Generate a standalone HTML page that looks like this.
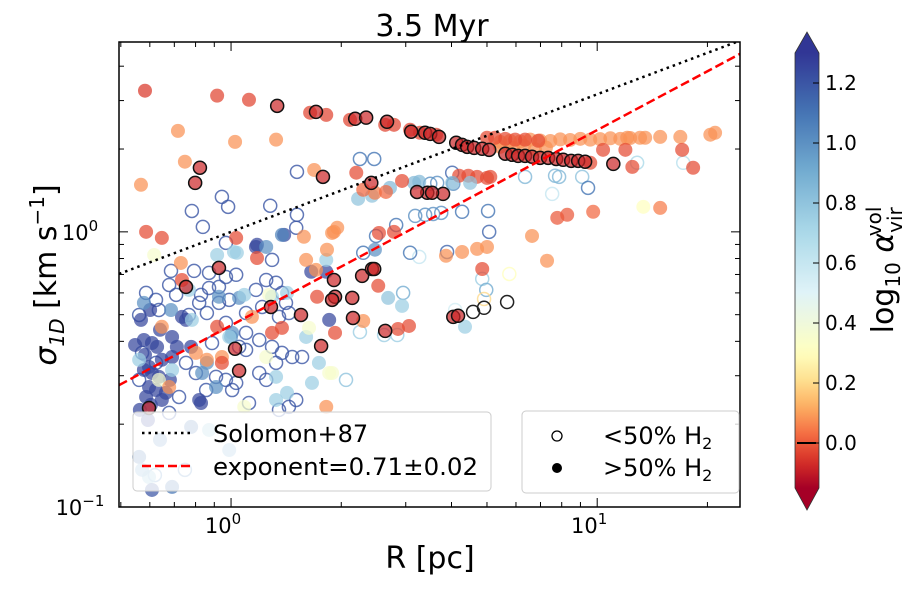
<!DOCTYPE html>
<html><head><meta charset="utf-8"><style>
body{margin:0;background:#fff;width:921px;height:586px;overflow:hidden;font-family:"DejaVu Sans","Liberation Sans",sans-serif}
svg text{font-family:"DejaVu Sans","Liberation Sans",sans-serif}
</style></head><body>
<svg id="chart" width="921" height="586" viewBox="0 0 921 586" xmlns="http://www.w3.org/2000/svg">
<defs>
<clipPath id="plotclip"><rect x="119" y="42" width="621" height="465"/></clipPath>
<linearGradient id="cmap" x1="0" y1="1" x2="0" y2="0"></linearGradient>
</defs>
<text x="432" y="36" font-size="30" text-anchor="middle">3.5 Myr</text>
<g id="points" clip-path="url(#plotclip)"></g>
<g id="lines" clip-path="url(#plotclip)"></g>
<rect x="119" y="42" width="621" height="465" fill="none" stroke="#000" stroke-width="1.5"/>
<g id="ticks"></g>
<text x="430" y="568" font-size="30" text-anchor="middle">R [pc]</text>
<text transform="translate(56,275) rotate(-90)" font-size="30" text-anchor="middle"><tspan font-style="italic">σ</tspan><tspan font-size="20" dy="8" font-style="italic">1D</tspan><tspan dy="-8"> [km s</tspan><tspan font-size="20" dy="-12">−1</tspan><tspan dy="12">]</tspan></text>
<g>
<rect x="133" y="412" width="358" height="79" rx="4" fill="#fff" fill-opacity="0.8" stroke="#ccc"/>
<line x1="142" y1="433" x2="190" y2="433" stroke="#000" stroke-width="2.5" stroke-dasharray="2.5,4"/>
<text x="213" y="442" font-size="24">Solomon+87</text>
<line x1="142" y1="466" x2="190" y2="466" stroke="#f00" stroke-width="2.5" stroke-dasharray="9,4"/>
<text x="213" y="475" font-size="24" textLength="265" lengthAdjust="spacingAndGlyphs">exponent=0.71±0.02</text>
</g>
<g>
<rect x="522" y="411" width="217" height="82" rx="4" fill="#fff" fill-opacity="0.8" stroke="#ccc"/>
<circle cx="557" cy="436" r="5" fill="none" stroke="#000" stroke-width="1.3"/>
<text x="603" y="444" font-size="24">&lt;50% H<tspan font-size="16" dy="5">2</tspan></text>
<circle cx="557" cy="468" r="5" fill="#000"/>
<text x="603" y="476" font-size="24">&gt;50% H<tspan font-size="16" dy="5">2</tspan></text>
</g>
<g>
<polygon id="cbTopTri" points="795,53 807,32 819,53" fill="#313695"/>
<polygon id="cbBotTri" points="795,488 807,510 819,488" fill="#a50026"/>
<rect x="795" y="53" width="24" height="435" fill="url(#cmap)"/>
<path d="M795,53 L807,32 L819,53 L819,488 L807,510 L795,488 Z" fill="none" stroke="#333" stroke-width="0.8"/>
<line x1="797" y1="443" x2="816" y2="443" stroke="#000" stroke-width="2"/>
<g id="cbticks"></g>
<text transform="translate(893,270) rotate(-90)" font-size="30" text-anchor="middle">log<tspan font-size="20" dy="7">10</tspan><tspan dy="-7"> </tspan><tspan font-style="italic">α</tspan><tspan font-size="20" dy="9">vir</tspan><tspan font-size="20" dx="-29" dy="-21">vol</tspan></text>
</g>
</svg>
<script>
// ---- data (log10 R [pc], log10 sigma [km/s], log10 alpha_vir) ----
const topRedR=[-.235,-.038,.049,.216,.260,.325,.421,.445,.489,.516,.560];
const topRedS=[.513,.495,.480,.433,.425,.407,.389,.389,.371,.360,.353];
const topRedA=[-.05,-.03,-.03,-.03,-.03,-.03,-.03,-.03,-.03,-.03,-.03];
const redPlainR=[.699,.721,.749,.776,.803,.839,.981,1.016,1.077,1.232,1.096,1.262,.623,.648,.672,.699,.708,.486,.456,.402,.284,.686,-.232,-.189,.404,.445,.014,.071,-.038,-.025,.112,.139,.235,-.134];
const redPlainS=[.342,.342,.338,.335,.335,.331,.251,.298,.298,.298,.236,.233,.204,.204,.200,.196,.200,-.342,-.353,-.196,-.367,-.135,0,-.022,-.004,0,-.022,-.095,-.345,-.476,-.367,-.349,-.236,-.175];
const redPlainA=-0.02;
const orangeR=[.735,.762,.790,.817,.844,.872,.899,.926,.954,.981,1.008,1.036,1.063,1.090,1.117,.735,.770,.800,.830,.860,1.172,1.227,1.309,1.322,1.131,1.082,.587,.631,.672,.699,.822,.863,.260,.011,.123,-.145,-.126,-.246,.227,.199,.290,.281,-.189,-.096,-.066,-.025,-.137,.205,.232,.276,.262,-.169,.057,.361];
const orangeS=[.327,.331,.329,.335,.332,.330,.336,.334,.338,.335,.337,.340,.338,.341,.342,.309,.305,.312,.300,.306,.345,.345,.353,.360,.342,.342,-.087,-.073,-.062,-.055,-.015,-.105,-.636,.327,.335,.367,.255,.171,.225,-.018,.015,0,-.345,-.440,-.465,-.455,-.113,-.102,-.138,-.004,-.065,-.564,-.309,-.324];
const orangeA=0.08;
const mixedR=[.604,.653,.500,.514,.347,.385,.434,.361,.393,.423,.342,.467,.891,.918,.989,1.172,1.126,.429,.467,.639,.276,.393,.139];
const mixedS=[.178,.178,.178,.182,.120,.131,.160,.153,.142,.145,.215,.185,.051,.062,.073,.087,.091,-.240,-.269,-.345,-.513,-.065,-.011];
const mixedA=[.85,.8,.85,.85,.8,.8,.85,.02,.05,.02,-.02,-.02,0,0,.02,.05,.3,.8,.75,.75,.35,1.0,1.05];
const darkBlueR=[-.246,-.238,-.216,-.202,-.224,-.238,-.216,-.197,-.224,-.205,-.178,-.232,-.189,-.219,-.087,-.082,-.134,-.123,-.161,-.148,-.161,-.189,-.109,.068,.268,.260,.219,.145,.071,-.235,-.194,-.221,-.167,-.262,-.249,-.227];
const darkBlueS=[-.320,-.393,-.404,-.418,-.491,-.502,-.513,-.527,-.564,-.575,-.585,-.6,-.611,-.629,-.611,-.622,-.309,-.320,-.382,-.418,-.455,-.465,-.418,-.055,-.320,-.145,-.145,-.011,-.047,-.447,-.356,-.284,-.538,-.411,-.647,-.684];
const darkBlueA=1.25;
const midBlueR=[-.238,-.164,-.079,0,-.041,-.066,-.033,.022,.096,.003];
const midBlueS=[-.258,-.284,-.513,-.382,-.564,-.476,-.236,-.240,-.055,-.367];
const midBlueA=1.0;
const lightBlueR=[-.251,-.161,-.107,.036,.112,.153,-.005,.123,.221,.153,.123,.205,.240,-.115,.008,.016,-.038,.260];
const lightBlueS=[-.465,-.502,-.320,-.229,-.236,-.222,-.382,-.527,-.549,-.585,-.611,-.382,-.476,-.211,-.073,-.076,-.084,-.102];
const lightBlueA=0.75;
const yellowR=[-.210,.096,.268,.104,.213,-.197,.036];
const yellowS=[-.084,-.455,-.513,-.229,-.349,-.538,-.636];
const yellowA=0.35;
const fadedR=[-.109,-.060,-.005,-.251,-.224,-.161,-.216,-.243,-.194];
const fadedS=[-.709,-.72,-.793,-.818,-.891,-.927,-.938,-.865,-.756];
const fadedA=[1.1,0.8,0.9,1.1,0.8,1.1,1.2,0.9,1.0];
const edgedR=[.126,.232,.339,.369,.426,.492,.530,.544,.568,.615,.631,.645,.664,.686,.705,.749,.768,.784,.803,.822,.844,.866,.888,.907,.929,.948,.967,1.044,.536,.579,.508,.549,.383,.251,.607,.620,.421,.333,.331,.284,.358,.385,.391,-.085,-.098,-.033,-.123,-.224,.011,.022,.109,.191,.246,.281,.276];
const edgedS=[.458,.436,.411,.415,.400,.364,.360,.356,.345,.324,.316,.309,.305,.302,.298,.284,.280,.276,.276,.273,.269,.269,.265,.262,.258,.258,.255,.247,.142,.138,.145,.142,.178,.200,-.309,-.305,-.360,-.313,-.240,-.236,-.160,-.135,-.135,.233,.178,-.131,-.2,-.640,-.425,-.505,-.273,-.302,-.415,-.175,-.247];
const edgedA=-0.08;
const blackOpenR=[.754,.691,.661];
const blackOpenS=[-.255,-.276,-.291];
const openMixR=[.803,.885,.896,.959,.975,.877,1.109,1.235,.604,.544,.563,.607,.530,.552,.574,.631,.702,.705,.590,.352,.391,.451,.396,.503,.454,.352,.418,.470,.612,.686,.697,.691,.760,.314,.514,.489,.361,-.025,-.008,-.107,-.077,.107,.180,.178,.180,-.126,-.208];
const openMixS=[.200,.204,.200,.200,.160,.138,.251,.251,.215,.175,.178,.175,.062,.065,.069,.073,.076,0,-.073,.265,.265,.025,-.015,.058,-.375,-.364,-.375,-.222,-.284,-.171,-.211,-.244,-.153,-.538,-.091,-.076,-.076,.127,.091,.076,.018,.095,.062,.015,.218,-.865,-.884];
const openMixA=[.85,.85,.85,.8,1.1,.6,.7,.65,1.15,1.0,1.0,1.0,1.0,1.0,1.0,1.1,1.1,1.15,1.15,1.1,1.1,1.1,1.1,1.0,.75,.75,.75,.9,.55,.75,.9,.2,.3,.8,.6,1.1,1.1,1.2,1.2,1.2,1.2,1.2,1.2,1.2,1.2,1.0,1.0];
const openBlueR=[-.014,.112,-.164,-.101,-.060,-.014,.014,-.033,-.169,-.150,-.232,-.205,-.082,-.060,-.033,-.005,-.087,-.251,-.197,-.066,-.115,.068,.096,.123,.139,.150,.085,.131,.158,.041,-.014,.041,.077,.112,.139,.123,.167,.194,.041,-.052,.022,-.243,-.251,-.205,-.123,-.096,-.041,.014,.003,-.014,.049,.077,.096,-.068,-.142,.178,.131,.158,-.169];
const openBlueS=[-.040,-.102,-.142,-.142,-.149,-.164,-.156,-.2,-.193,-.229,-.222,-.247,-.229,-.204,-.258,-.247,-.258,-.302,-.284,-.295,-.302,-.211,-.175,-.185,-.222,-.258,-.273,-.309,-.295,-.295,-.331,-.367,-.393,-.418,-.440,-.476,-.455,-.455,-.429,-.404,-.418,-.440,-.538,-.476,-.476,-.513,-.527,-.549,-.575,-.538,-.622,-.513,-.538,-.575,-.6,-.611,-.647,-.636,-.658];
const openBlueA=1.2;
const xTickMajor=[0,1];
const xTickLabels=["0","1"];
const yTickMajor=[-1,0];
const yTickLabels=["−1","0"];
const cbTicks=[0,0.2,0.4,0.6,0.8,1.0,1.2];
const cbTickLabels=["0.0","0.2","0.4","0.6","0.8","1.0","1.2"];
const solomonSlope=0.5, solomonLogC=0.0;
const fitSlope=0.71, fitLogC=-0.34;

// ---- scales ----
const X0=119,X1=740,Y0=42,Y1=507;
const xMin=-0.306,xMax=1.39,yMin=-1,yMax=0.69;
const sx=v=>X0+(v-xMin)/(xMax-xMin)*(X1-X0);
const sy=v=>Y1-(v-yMin)/(yMax-yMin)*(Y1-Y0);
const cbMin=-0.15,cbMax=1.3,cbCenter=0.3,cbTop=53,cbBot=488;
const cy=v=>cbBot-(v-cbMin)/(cbMax-cbMin)*(cbBot-cbTop);
const stops=["#a50026","#d73027","#f46d43","#fdae61","#fee090","#ffffbf","#e0f3f8","#abd9e9","#74add1","#4575b4","#313695"];
function hex(h){return [1,3,5].map(i=>parseInt(h.substr(i,2),16));}
function norm(a){let t=a<cbCenter?0.5*(a-cbMin)/(cbCenter-cbMin):0.5+0.5*(a-cbCenter)/(cbMax-cbCenter);return Math.max(0,Math.min(1,t));}
function cmap(a){const t=norm(a)*10;const i=Math.min(9,Math.floor(t)),f=t-i;const c0=hex(stops[i]),c1=hex(stops[i+1]);return "rgb("+c0.map((c,k)=>Math.round(c+(c1[k]-c)*f)).join(",")+")";}
const NS="http://www.w3.org/2000/svg";
const grad=document.getElementById('cmap');
for(let k=0;k<=40;k++){const v=cbMin+(cbMax-cbMin)*k/40;const s=document.createElementNS(NS,'stop');s.setAttribute('offset',k/40);s.setAttribute('stop-color',cmap(v));grad.appendChild(s);}
const pts=document.getElementById('points');
function mk(tag,attrs,parent){const e=document.createElementNS(NS,tag);for(const k in attrs)e.setAttribute(k,attrs[k]);parent.appendChild(e);return e;}
function av(A,i){return Array.isArray(A)?A[i]:A;}
function drawOpen(R,S,A){R.forEach((r,i)=>{const c=mk('circle',{cx:sx(r),cy:sy(S[i]),r:6.5,fill:'none',stroke:cmap(av(A,i)),'stroke-width':1.5,'stroke-opacity':0.8},pts);

});}
function drawFilled(R,S,A){R.forEach((r,i)=>{const c=mk('circle',{cx:sx(r),cy:sy(S[i]),r:7,fill:cmap(av(A,i)),'fill-opacity':0.72},pts);

});}
drawOpen(openBlueR,openBlueS,openBlueA);
drawOpen(openMixR,openMixS,openMixA);
drawFilled(fadedR,fadedS,fadedA);
drawFilled(darkBlueR,darkBlueS,darkBlueA);
drawFilled(midBlueR,midBlueS,midBlueA);
drawFilled(lightBlueR,lightBlueS,lightBlueA);
drawFilled(yellowR,yellowS,yellowA);
drawFilled(orangeR,orangeS,orangeA);
drawFilled(redPlainR,redPlainS,redPlainA);
drawFilled(mixedR,mixedS,mixedA);
drawFilled(topRedR,topRedS,topRedA);
blackOpenR.forEach((r,i)=>{const c=mk('circle',{cx:sx(r),cy:sy(blackOpenS[i]),r:6.5,fill:'none',stroke:'#222','stroke-width':1.5},pts);

});
edgedR.forEach((r,i)=>{const c=mk('circle',{cx:sx(r),cy:sy(edgedS[i]),r:6.5,fill:cmap(edgedA),'fill-opacity':0.7,stroke:'#111','stroke-width':1.5},pts);

});

// lines
const lg=document.getElementById('lines');
const sol=mk('line',{x1:sx(xMin),y1:sy(solomonLogC+solomonSlope*xMin),x2:sx(xMax),y2:sy(solomonLogC+solomonSlope*xMax),stroke:'#000','stroke-width':2.5,'stroke-dasharray':'2.5,4'},lg);


const fit=mk('line',{x1:sx(xMin),y1:sy(fitLogC+fitSlope*xMin),x2:sx(xMax),y2:sy(fitLogC+fitSlope*xMax),stroke:'#f00','stroke-width':2.5,'stroke-dasharray':'9,4'},lg);



// ticks
const tg=document.getElementById('ticks');
function tick(x1,y1,x2,y2){mk('line',{x1,y1,x2,y2,stroke:'#000','stroke-width':1},tg);}
for(let d=-1;d<=1;d++)for(let m=1;m<=9;m++){const v=d+Math.log10(m);if(v<xMin||v>xMax)continue;const x=sx(v),L=m==1?9:5;tick(x,Y1,x,Y1-L);tick(x,Y0,x,Y0+L);}
for(let d=-1;d<=0;d++)for(let m=1;m<=9;m++){const v=d+Math.log10(m);if(v<yMin||v>yMax)continue;const y=sy(v),L=m==1?9:5;tick(X0,y,X0+L,y);tick(X1,y,X1-L,y);}
xTickMajor.forEach((v,i)=>{const t=mk('text',{x:sx(v)-8,y:533,'font-size':21,'text-anchor':'middle'},tg);t.textContent='10';const s=mk('tspan',{'font-size':15,dy:-9},t);s.textContent=xTickLabels[i];

});
yTickMajor.forEach((v,i)=>{const t=mk('text',{x:80,y:sy(v)+8,'font-size':21,'text-anchor':'middle'},tg);t.textContent='10';const s=mk('tspan',{'font-size':15,dy:-9},t);s.textContent=yTickLabels[i];

});
const cg=document.getElementById('cbticks');
cbTicks.forEach((v,i)=>{mk('line',{x1:813,y1:cy(v),x2:819,y2:cy(v),stroke:'#000','stroke-width':1},cg);const t=mk('text',{x:825,y:cy(v)+7,'font-size':20},cg);t.textContent=cbTickLabels[i];

});
</script>
</body></html>
